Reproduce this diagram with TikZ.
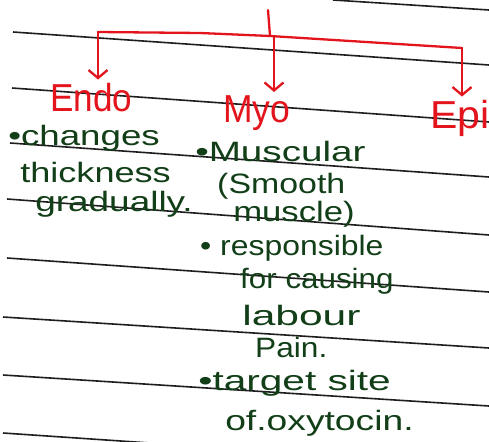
\documentclass[tikz,border=0pt]{standalone}
\usepackage{fontspec}
\setmainfont{Liberation Sans}
\usetikzlibrary{arrows.meta}
\definecolor{ink}{HTML}{123F18}
\definecolor{redink}{HTML}{E4141C}
\definecolor{rule}{HTML}{1E1E1E}
\tikzset{
  ruled/.style={draw=rule, line width=1.6pt},
  redline/.style={draw=redink, line width=2.3pt, line join=round, line cap=round},
  arr/.style={redline, -{Straight Barb[length=8pt,width=19pt,line width=2.3pt]}, shorten >=3pt},
  lbl/.style={text=redink, font=\fontsize{39}{39}\selectfont, inner sep=0pt, anchor=base west, transform shape},
  hw/.style={text=ink, font=\fontsize{28}{28}\selectfont, inner sep=0pt, anchor=base west, transform shape}
}
\begin{document}
\begin{tikzpicture}[x=1pt,y=-1pt]
\useasboundingbox (0,0) rectangle (489,441);
\fill[white] (0,0) rectangle (489,441);
% ruled lines
\draw[ruled] (333,0) -- (489,10);
\draw[ruled] (13,32) -- (489,65);
\draw[ruled] (12,88) -- (489,122);
\draw[ruled] (10,143) -- (489,177);
\draw[ruled] (7,199) -- (489,235);
\draw[ruled] (7,258) -- (489,292);
\draw[ruled] (3,317) -- (489,348);
\draw[ruled] (3,375) -- (489,406);
\draw[ruled] (3,433) -- (489,466);
% red labels
\node[lbl, xscale=0.9] (endo) at (50,111) {Endo};
\node[lbl, xscale=0.91] (myo) at (223,122) {Myo};
\node[lbl, xscale=1.05] (epi) at (430,128) {Epi};
% tree
\coordinate (top) at (268,10);
\coordinate (jn) at (270,36);
\coordinate (lc) at (98,32);
\coordinate (rc) at (462,48);
\draw[redline] (top) -- (jn);
\draw[redline] (lc) -- (200,33) -- (jn) -- (rc);
\draw[arr] (lc) -- (lc |- endo.north);
\draw[arr] (274,36) -- (274,0 |- myo.north);
\draw[arr] (rc) -- (rc |- epi.north);
% green notes
\node[hw, xscale=1.31] (n1) at (8,145) {•changes};
\node[hw, xscale=1.29] (n2) at (20,182) {thickness};
\node[hw, xscale=1.32] (n3) at (35,211) {gradually.};
\node[hw, xscale=1.38] (n4) at (195,161) {•Muscular};
\node[hw, xscale=1.21] (n5) at (217,193) {(Smooth};
\node[hw, xscale=1.24] (n6) at (233,221) {muscle)};
\node[hw, xscale=1.14] (n7) at (200,255) {• responsible};
\node[hw, xscale=1.12] (n8) at (240,288) {for causing};
\node[hw, xscale=1.52] (n9) at (242,325) {labour};
\node[hw, xscale=1.13] (n10) at (255,357) {Pain.};
\node[hw, xscale=1.45] (n11) at (198,390) {•target site};
\node[hw, xscale=1.33] (n12) at (225,430) {of.oxytocin.};
\end{tikzpicture}
\end{document}
